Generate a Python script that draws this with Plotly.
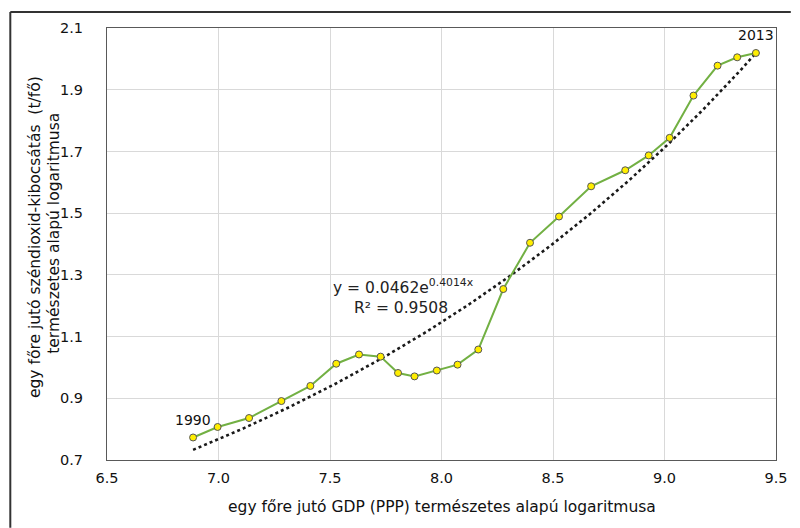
import numpy as np
import plotly.graph_objects as go

# Data: ln(GDP per capita, PPP) vs ln(CO2 per capita), 1990-2013
years = list(range(1990, 2014))
ln_gdp = [6.886, 6.996, 7.137, 7.282, 7.412, 7.528, 7.630, 7.727, 7.805, 7.879,
          7.979, 8.072, 8.165, 8.277, 8.397, 8.527, 8.671, 8.824, 8.929, 9.023,
          9.130, 9.238, 9.326, 9.410]
ln_co2 = [0.773, 0.807, 0.836, 0.891, 0.940, 1.012, 1.042, 1.035, 0.982, 0.971,
          0.990, 1.009, 1.058, 1.254, 1.404, 1.489, 1.587, 1.639, 1.687, 1.744,
          1.881, 1.978, 2.005, 2.019]

# Exponential trendline shown on chart
trend_a = 0.0462
trend_b = 0.4014
r_squared = 0.9508

x_ticks = [6.5, 7.0, 7.5, 8.0, 8.5, 9.0, 9.5]
y_ticks = [0.7, 0.9, 1.1, 1.3, 1.5, 1.7, 1.9, 2.1]

x_title = "egy főre jutó GDP (PPP) természetes alapú logaritmusa"
y_title_1 = "egy főre jutó széndioxid-kibocsátás  (t/fő)"
y_title_2 = "természetes alapú logaritmusa"

FONT = "DejaVu Sans"

tx = np.linspace(ln_gdp[0], ln_gdp[-1], 200)
ty = trend_a * np.exp(trend_b * tx)

fig = go.Figure()
fig.add_trace(go.Scatter(x=tx, y=ty, mode="lines",
                         line=dict(color="#1a1a1a", width=2.6, dash="dot"),
                         hoverinfo="skip", showlegend=False))
fig.add_trace(go.Scatter(x=ln_gdp, y=ln_co2, mode="lines+markers",
                         line=dict(color="#72B043", width=2),
                         marker=dict(size=7, color="#FFEE00",
                                     line=dict(color="#555555", width=1)),
                         showlegend=False))

# The page body has an 8px margin; work in page pixels and convert.
OFF = 8
W, H = 800 - OFF, 528 - OFF
PL, PR, PT, PB = 107, 785, 26, 460   # plot area in page pixels
L, R, T, B = PL - OFF, W - (PR - OFF), PT - OFF, H - (PB - OFF)
pw, ph = PR - PL, PB - PT

def px_x(p):
    return (p - PL) / pw

def px_y(p):
    return (PB - p) / ph

annotations = [
    dict(x=ln_gdp[0], y=ln_co2[0], text=str(years[0]), showarrow=False,
         yshift=17, font=dict(family=FONT, size=14, color="#111111")),
    dict(x=ln_gdp[-1], y=ln_co2[-1], text=str(years[-1]), showarrow=False,
         yshift=18, font=dict(family=FONT, size=14, color="#111111")),
    dict(x=7.83, y=1.262, text=f"y = {trend_a}e<sup>{trend_b}x</sup>", showarrow=False,
         font=dict(family=FONT, size=15.5, color="#222222")),
    dict(x=7.82, y=1.192, text=f"R² = {r_squared}", showarrow=False,
         font=dict(family=FONT, size=15.5, color="#222222")),
    dict(xref="paper", yref="paper", x=px_x(446), y=px_y(507), text=x_title,
         xanchor="center", yanchor="middle",
         showarrow=False, font=dict(family=FONT, size=15.5, color="#111111")),
    dict(xref="paper", yref="paper", x=px_x(34), y=px_y(236), text=y_title_1,
         xanchor="center", yanchor="middle",
         showarrow=False, textangle=-90, font=dict(family=FONT, size=15.5, color="#111111")),
    dict(xref="paper", yref="paper", x=px_x(53), y=px_y(232), text=y_title_2,
         xanchor="center", yanchor="middle",
         showarrow=False, textangle=-90, font=dict(family=FONT, size=15.5, color="#111111")),
]

shapes = [
    dict(type="line", xref="paper", yref="paper", x0=px_x(9), x1=px_x(9),
         y0=px_y(10), y1=px_y(528), line=dict(color="#333333", width=2)),
    dict(type="line", xref="paper", yref="paper", x0=px_x(9), x1=px_x(800),
         y0=px_y(10), y1=px_y(10), line=dict(color="#333333", width=2)),
]

fig.update_layout(
    width=W, height=H,
    margin=dict(l=L, r=R, t=T, b=B),
    paper_bgcolor="white", plot_bgcolor="white",
    font=dict(family=FONT, size=14, color="#111111"),
    annotations=annotations, shapes=shapes,
)
fig.update_xaxes(range=[6.5, 9.5], tickvals=x_ticks, tickformat=".1f",
                 showgrid=True, gridcolor="#D9D9D9", gridwidth=1,
                 showline=True, linecolor="#595959", linewidth=1, mirror=True,
                 ticks="", ticklabelstandoff=5, zeroline=False,
                 tickfont=dict(size=14.5))
fig.update_yaxes(range=[0.7, 2.1], tickvals=y_ticks, tickformat=".1f",
                 showgrid=True, gridcolor="#D9D9D9", gridwidth=1,
                 showline=True, linecolor="#595959", linewidth=1, mirror=True,
                 ticks="", ticklabelstandoff=20, zeroline=False,
                 tickfont=dict(size=14.5))

fig.write_html("out.html")
